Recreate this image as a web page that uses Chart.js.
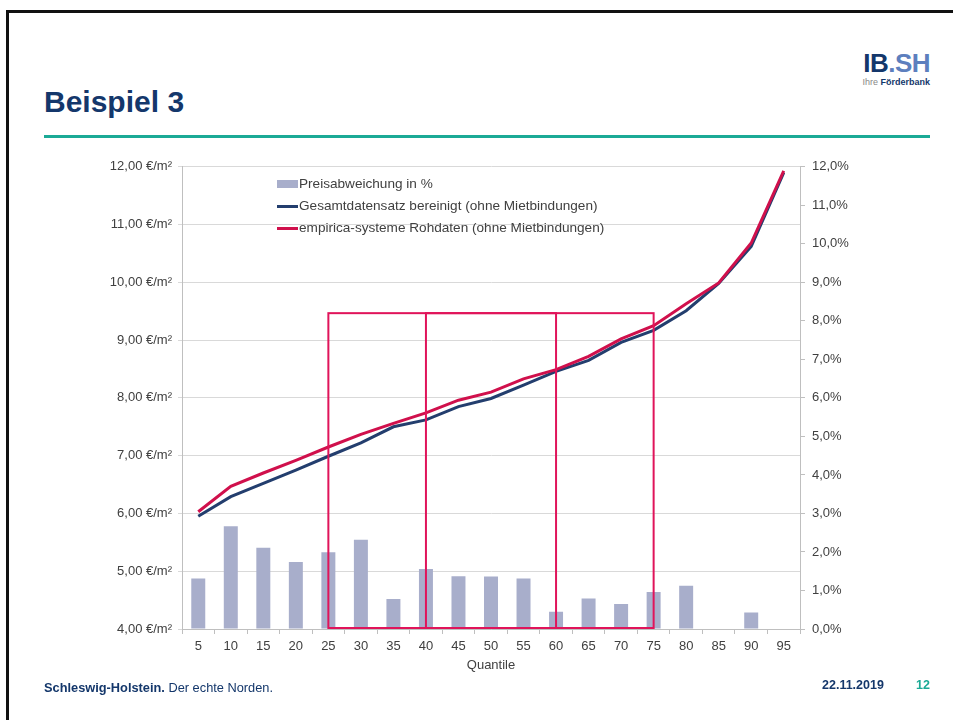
<!DOCTYPE html>
<html lang="de">
<head>
<meta charset="utf-8">
<title>Beispiel 3</title>
<script src="https://cdn.jsdelivr.net/npm/chart.js@4/dist/chart.umd.min.js"></script>
<style>
  html, body { margin: 0; padding: 0; background: #fff; }
  body { width: 953px; height: 720px; position: relative; overflow: hidden; font-family: "Liberation Sans", Arial, sans-serif; }
  .frame { position: absolute; left: 6px; top: 10px; right: -4px; bottom: -4px; border-left: 3px solid #111; border-top: 3px solid #111; }
  .title { position: absolute; left: 44px; top: 85px; font-size: 30px; font-weight: bold; color: #14376b; }
  .rule { position: absolute; left: 44px; top: 135px; width: 886px; height: 3px; background: #1baa96; }
  .logo { position: absolute; right: 23px; top: 50px; text-align: right; }
  .logo .ib { font-size: 26px; font-weight: bold; color: #14376b; letter-spacing: -0.5px; line-height: 27px; }
  .logo .ib span { color: #5d7fbe; }
  .logo .sub { font-size: 9px; color: #888; line-height: 11px; }
  .logo .sub b { color: #14376b; }
  .footer { position: absolute; left: 44px; top: 680px; font-size: 12.8px; color: #14376b; }
  .date { position: absolute; left: 822px; top: 678px; font-size: 12.5px; font-weight: bold; color: #14376b; }
  .page { position: absolute; left: 916px; top: 678px; font-size: 12.5px; font-weight: bold; color: #1baa96; }
  .chartbox { position: absolute; left: 90px; top: 152px; width: 780px; height: 533px; }
  .legend { position: absolute; left: 277px; top: 175px; font-size: 13.6px; color: #404040; }
  .legend div { height: 22px; line-height: 18px; white-space: nowrap; }
  .legend i { display: inline-block; width: 21px; vertical-align: middle; margin-right: 1px; }
</style>
</head>
<body>
<div class="frame"></div>
<div class="title">Beispiel 3</div>
<div class="rule"></div>
<div class="logo"><div class="ib">IB<span>.SH</span></div><div class="sub">Ihre <b>Förderbank</b></div></div>

<div class="chartbox"><canvas id="chart" width="780" height="533"></canvas></div>

<div class="legend">
  <div><i style="height:8px;background:#a8aecb"></i>Preisabweichung in %</div>
  <div><i style="height:3px;background:#233e6e"></i>Gesamtdatensatz bereinigt (ohne Mietbindungen)</div>
  <div><i style="height:3px;background:#d0104c"></i>empirica-systeme Rohdaten (ohne Mietbindungen)</div>
</div>

<div class="footer"><b>Schleswig-Holstein.</b> Der echte Norden.</div>
<div class="date">22.11.2019</div>
<div class="page">12</div>

<script>
const quantile = ['5', '10', '15', '20', '25', '30', '35', '40', '45', '50', '55', '60', '65', '70', '75', '80', '85', '90', '95'];

// Preisabweichung in % (rechte Achse)
const preisabweichung = [1.31, 2.67, 2.11, 1.74, 1.99, 2.32, 0.78, 1.56, 1.37, 1.36, 1.31, 0.45, 0.79, 0.65, 0.96, 1.12, 0, 0.43, 0];

// €/m² (linke Achse)
const gesamtBereinigt = [5.95, 6.29, 6.52, 6.75, 6.99, 7.22, 7.50, 7.62, 7.85, 7.99, 8.22, 8.46, 8.65, 8.96, 9.17, 9.51, 9.98, 10.62, 11.90];
const empiricaRoh = [6.03, 6.47, 6.70, 6.92, 7.15, 7.37, 7.56, 7.74, 7.96, 8.10, 8.33, 8.49, 8.72, 9.02, 9.25, 9.63, 9.99, 10.68, 11.93];

// markierte Bereiche (Quantile von/bis, Höhe in % auf der rechten Achse)
const boxes = [['25', '60'], ['40', '75']];
const boxTop = 8.2;

const boxPlugin = {
  id: 'boxes',
  afterDatasetsDraw(chart) {
    const ctx = chart.ctx;
    const x = chart.scales.x;
    const y1 = chart.scales.y1;
    ctx.save();
    ctx.strokeStyle = '#e0145a';
    ctx.lineWidth = 2;
    boxes.forEach(b => {
      const x0 = x.getPixelForValue(quantile.indexOf(b[0]));
      const x1 = x.getPixelForValue(quantile.indexOf(b[1]));
      const top = y1.getPixelForValue(boxTop);
      const bottom = y1.getPixelForValue(0) - 1;
      ctx.strokeRect(x0, top, x1 - x0, bottom - top);
    });
    ctx.restore();
  }
};

const tickFont = { family: 'Liberation Sans', size: 13 };

new Chart(document.getElementById('chart').getContext('2d'), {
  data: {
    labels: quantile,
    datasets: [{
      type: 'bar',
      label: 'Preisabweichung in %',
      data: preisabweichung,
      yAxisID: 'y1',
      backgroundColor: '#a8aecb',
      barPercentage: 0.43,
      categoryPercentage: 1,
      order: 3
    }, {
      type: 'line',
      label: 'Gesamtdatensatz bereinigt (ohne Mietbindungen)',
      data: gesamtBereinigt,
      yAxisID: 'y',
      borderColor: '#233e6e',
      borderWidth: 3,
      pointRadius: 0,
      tension: 0,
      order: 2
    }, {
      type: 'line',
      label: 'empirica-systeme Rohdaten (ohne Mietbindungen)',
      data: empiricaRoh,
      yAxisID: 'y',
      borderColor: '#d0104c',
      borderWidth: 3,
      pointRadius: 0,
      tension: 0,
      order: 1
    }]
  },
  options: {
    responsive: false,
    animation: false,
    layout: { padding: { top: 8, left: 0, right: 0, bottom: 0 } },
    scales: {
      x: {
        grid: { display: true, drawOnChartArea: false, offset: true, tickLength: 5, color: '#bfbfbf' },
        border: { color: '#bfbfbf' },
        ticks: { color: '#404040', font: tickFont, padding: 5, maxRotation: 0 },
        title: { display: true, text: 'Quantile', color: '#404040', font: tickFont, padding: { top: 4, bottom: 12 } },
        afterFit(scale) { scale.height = 56; }
      },
      y: {
        position: 'left',
        min: 4,
        max: 12,
        ticks: {
          stepSize: 1,
          color: '#404040',
          font: tickFont,
          padding: 6,
          callback: v => v.toFixed(2).replace('.', ',') + ' €/m²'
        },
        grid: { color: '#d9d9d9', tickLength: 4 },
        border: { color: '#bfbfbf' },
        afterFit(scale) { scale.width = 92; }
      },
      y1: {
        position: 'right',
        min: 0,
        max: 12,
        ticks: {
          stepSize: 1,
          color: '#404040',
          font: tickFont,
          padding: 7,
          callback: v => v.toFixed(1).replace('.', ',') + '%'
        },
        grid: { drawOnChartArea: false, tickLength: 5, color: '#bfbfbf' },
        border: { color: '#bfbfbf' },
        afterFit(scale) { scale.width = 70; }
      }
    },
    plugins: {
      legend: { display: false },
      tooltip: { enabled: false }
    }
  },
  plugins: [boxPlugin]
});
</script>
</body>
</html>
